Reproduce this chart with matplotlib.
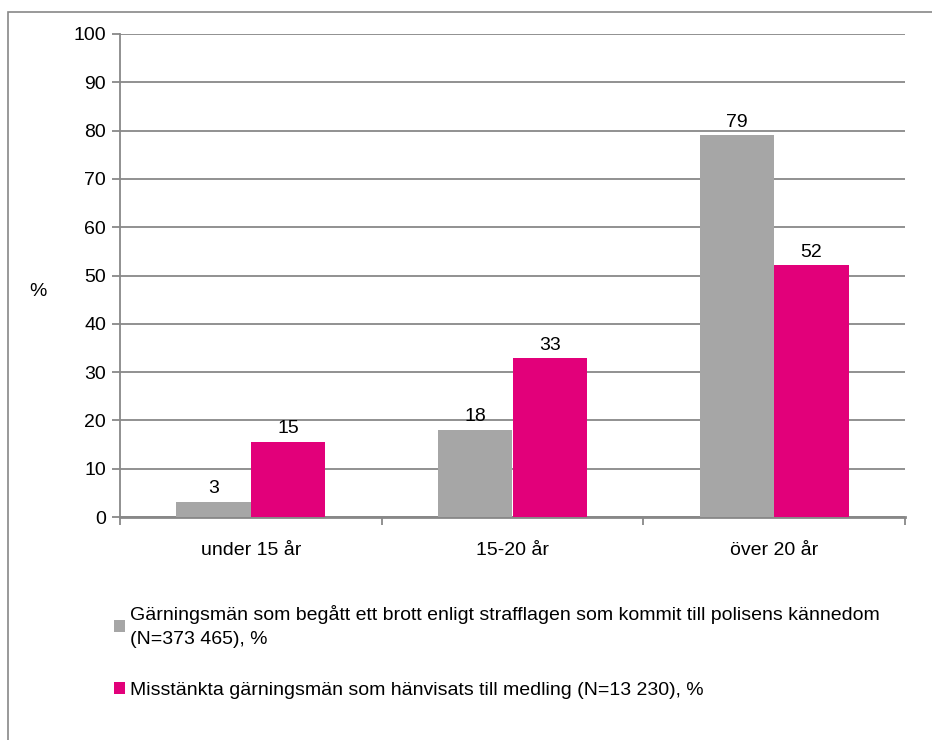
import matplotlib
matplotlib.use("Agg")
import matplotlib.pyplot as plt
from matplotlib.patches import Patch, Rectangle
import numpy as np

plt.rcParams["font.family"] = ["Liberation Sans", "DejaVu Sans"]

categories = ["under 15 år", "15-20 år", "över 20 år"]
police_vals = [3.2, 18.1, 79.0]
police_labels = ["3", "18", "79"]
mediation_vals = [15.6, 32.9, 52.1]
mediation_labels = ["15", "33", "52"]
series_names = [
    "Gärningsmän som begått ett brott enligt strafflagen som kommit till polisens kännedom\n(N=373 465), %",
    "Misstänkta gärningsmän som hänvisats till medling (N=13 230), %",
]

GRAY = "#a6a6a6"
PINK = "#e2007a"
LINE = "#888888"
FS = 14

fig = plt.figure(figsize=(9.32, 7.40), dpi=100)
ax = fig.add_axes([120 / 932, 1 - 517 / 740, (905 - 120) / 932, (517 - 34) / 740])

# outer chart frame (only left and top visible in the original crop)
fig.patches.append(Rectangle((8 / 932, -0.2), 1.2, 1 - 12 / 740 + 0.2,
                             transform=fig.transFigure, fill=False,
                             edgecolor=LINE, linewidth=1.2, clip_on=False))

x = np.arange(len(categories))
w = 0.285
b1 = ax.bar(x - w / 2, police_vals, w, color=GRAY, zorder=3)
b2 = ax.bar(x + w / 2, mediation_vals, w, color=PINK, zorder=3)

for bars, labels in ((b1, police_labels), (b2, mediation_labels)):
    for bar, lab in zip(bars, labels):
        ax.annotate(lab, (bar.get_x() + bar.get_width() / 2, bar.get_height()),
                    xytext=(0, 3), textcoords="offset points",
                    ha="center", va="bottom", fontsize=FS)

ax.set_xlim(-0.5, 2.5)
ax.set_ylim(0, 100)
ax.set_yticks(range(0, 101, 10))
ax.yaxis.grid(True, color=LINE, linewidth=1.3, zorder=0)
ax.set_axisbelow(True)

ax.set_xticks(x)
ax.set_xticklabels(categories)
ax.set_xticks([-0.5, 0.5, 1.5, 2.5], minor=True)
ax.tick_params(axis="x", which="major", length=0, pad=18, labelsize=FS)
ax.tick_params(axis="x", which="minor", length=6, width=1.3, color=LINE, direction="out")
ax.tick_params(axis="y", length=6, width=1.3, color=LINE, labelsize=FS, pad=4)

for side in ("top", "right"):
    ax.spines[side].set_visible(False)
ax.spines["left"].set_color(LINE)
ax.spines["left"].set_linewidth(1.3)
ax.spines["bottom"].set_color(LINE)
ax.spines["bottom"].set_linewidth(2)

ax.set_ylabel("%", rotation=0, fontsize=FS)
ax.yaxis.set_label_coords(-0.105, 0.45)

handles = [Patch(facecolor=GRAY), Patch(facecolor=PINK)]
leg = fig.legend(handles, series_names, loc="upper left",
                 bbox_to_anchor=(104 / 932, 1 - 595 / 740), frameon=False,
                 fontsize=FS, handlelength=0.6, handleheight=0.6,
                 handletextpad=0.25, labelspacing=1.75, borderpad=0)
for t in leg.get_texts():
    t.set_linespacing(1.55)

fig.savefig("out.png", dpi=100)
